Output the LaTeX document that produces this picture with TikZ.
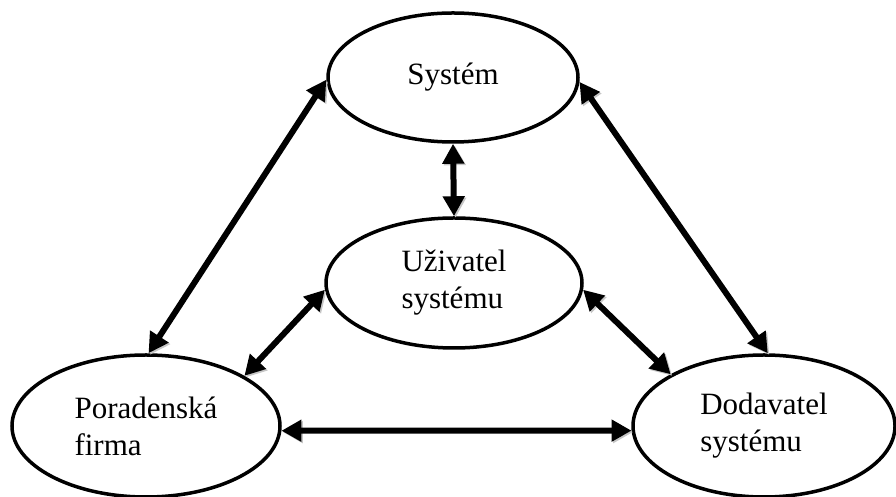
\documentclass[tikz,border=0pt]{standalone}
\usepackage{fontspec}
\setmainfont{Liberation Serif}
\usepackage{tikz}
\usetikzlibrary{arrows.meta,shapes.geometric}

\begin{document}
\begin{tikzpicture}[
		x=1pt, y=1pt,
		role/.style={draw, ellipse, line width=3.5pt, fill=white, inner sep=0pt,
			align=left, font=\fontsize{31}{37}\selectfont},
		link/.style={line width=6pt,
			{Triangle[length=20pt,width=21pt]}-{Triangle[length=20pt,width=21pt]},
			preaction={draw=gray!45, transform canvas={shift={(1.5pt,-1.5pt)}}}}
	]
		\useasboundingbox (0,0) rectangle (896,497);
		% the four parties
		\node[role, minimum width=250pt, minimum height=129pt] (sys) at (453,419.5) {Systém};
		\node[role, minimum width=256pt, minimum height=130pt] (uziv) at (454,214) {Uživatel\\systému};
		\node[role, minimum width=268pt, minimum height=142pt] (por) at (146,71) {Poradenská\\firma};
		\node[role, minimum width=262pt, minimum height=142pt] (dod) at (764,71) {Dodavatel\\systému};
		% two-way links
		\draw[link] (sys.181) -- (por.88);
		\draw[link] (sys.-2) -- (dod.87);
		\draw[link] (sys.south) -- (uziv.north);
		\draw[link] (uziv.183) -- (por.27);
		\draw[link] (uziv.-3) -- (dod.151);
		\draw[link] (por.-2.6) -- (dod.182.6);
	\end{tikzpicture}
\end{document}
